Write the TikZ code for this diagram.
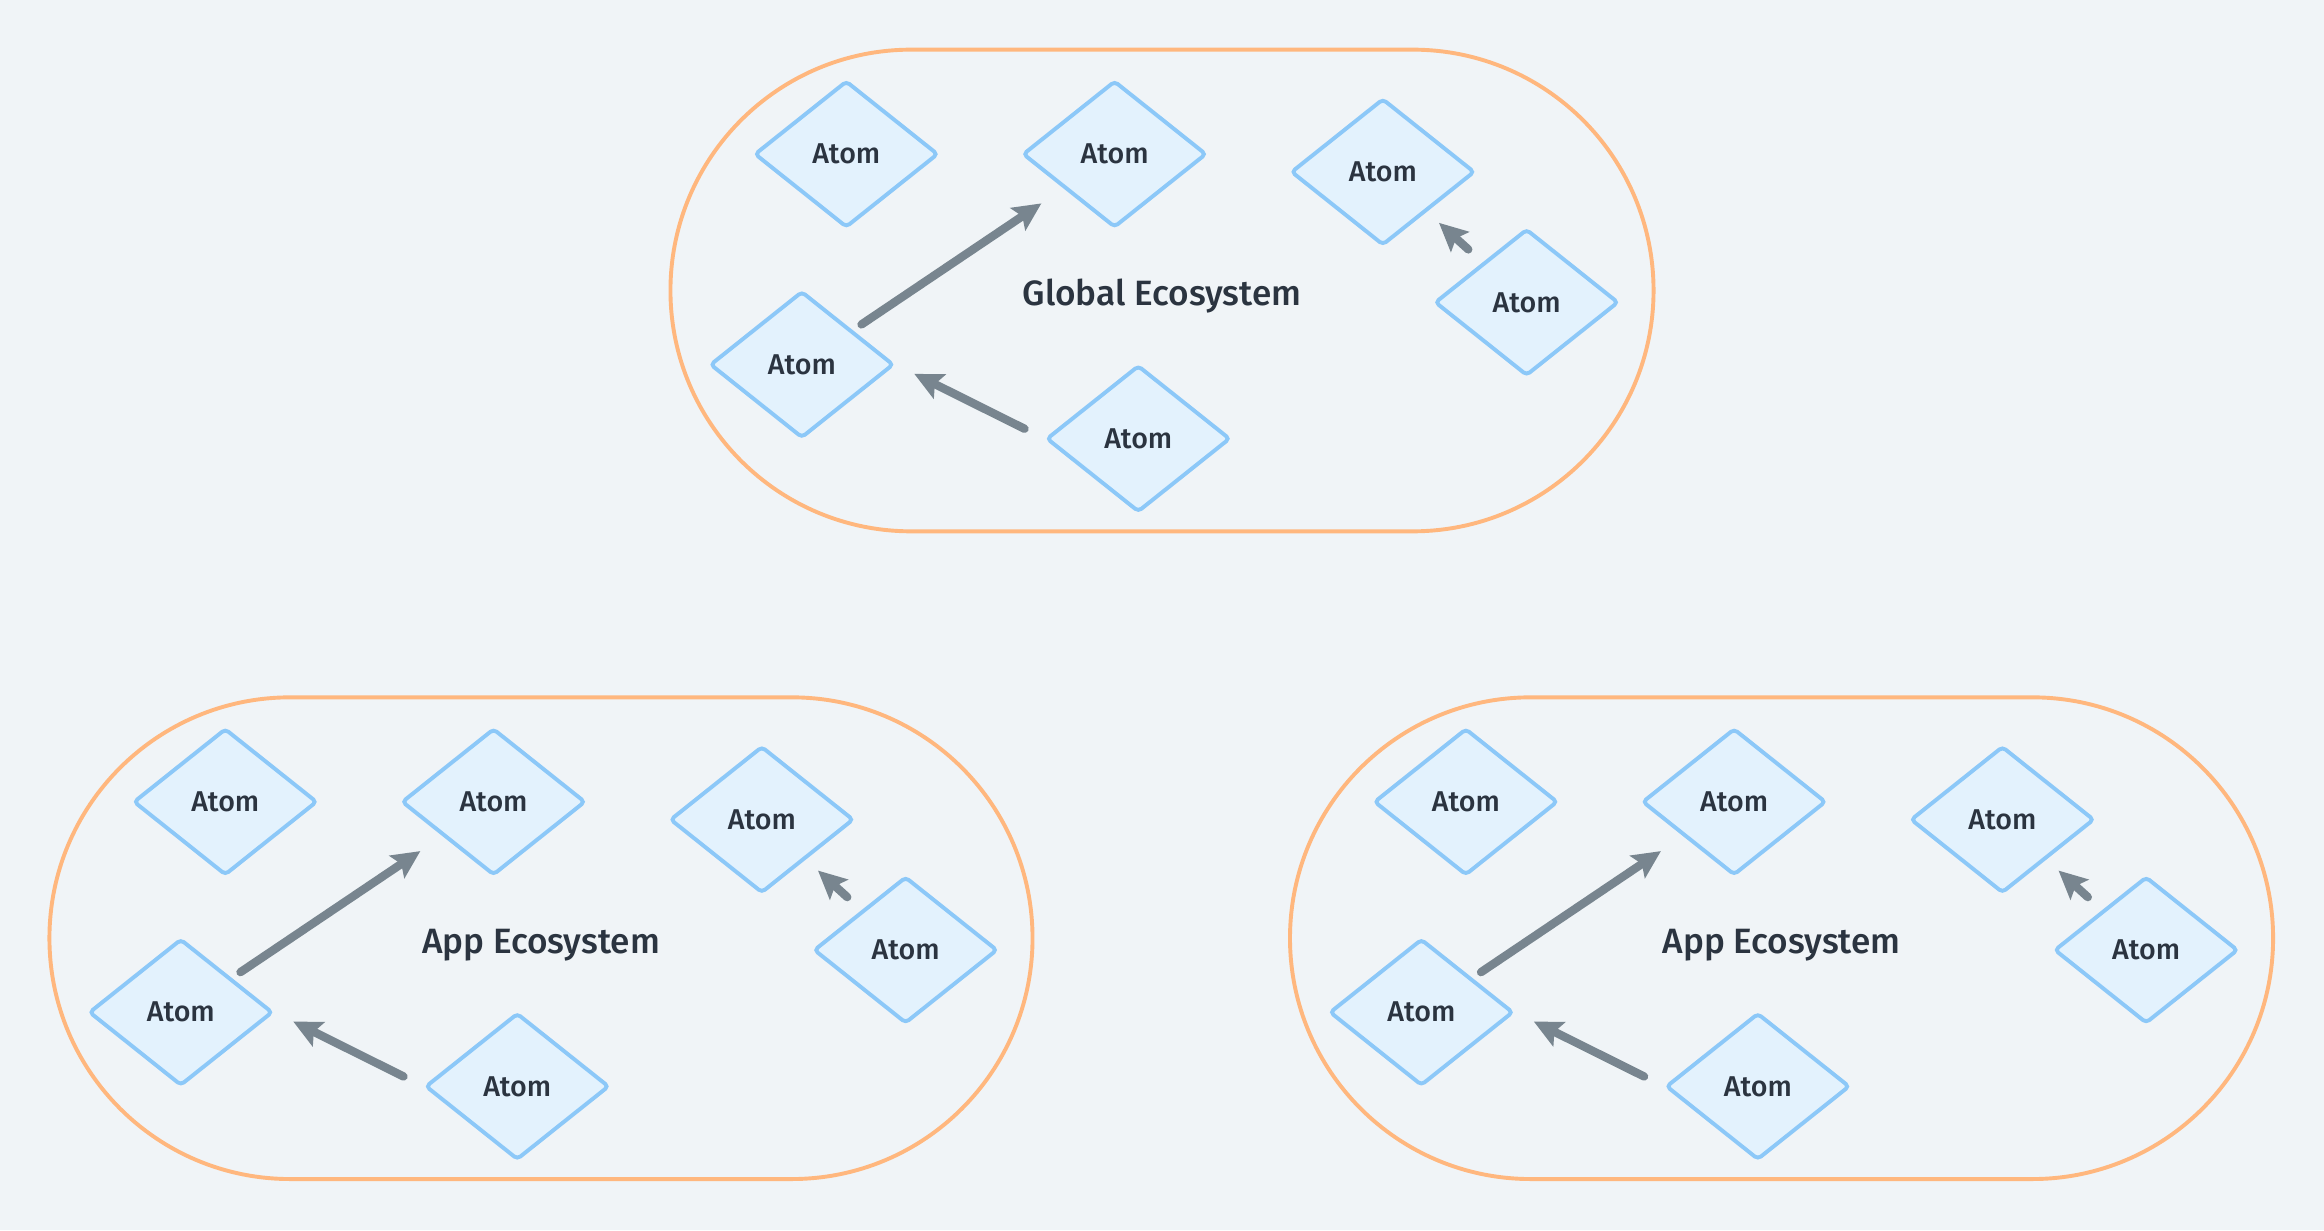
\documentclass[tikz,border=0pt]{standalone}
\usepackage{fontspec}
\setmainfont{Fira Sans Medium}
\usetikzlibrary{shapes.geometric,shapes.misc,arrows.meta}
\definecolor{bgcol}{HTML}{F0F4F7}
\definecolor{ecoline}{HTML}{FFB77E}
\definecolor{atomline}{HTML}{8CC8F8}
\definecolor{atomfill}{HTML}{E3F2FD}
\definecolor{linkcol}{HTML}{78858F}
\definecolor{txtcol}{HTML}{2B3440}
\tikzset{
  ecosys/.style={rounded rectangle, draw=ecoline, line width=1.5pt, minimum width=13.5cm, minimum height=6.5cm, text height=0.5cm, text depth=0.1cm, text=txtcol, font=\fontsize{13.5}{16}\selectfont},
  atom/.style={diamond, draw=atomline, fill=atomfill, line width=1.5pt, rounded corners=1.5pt, minimum width=2.48cm, minimum height=1.98cm, inner sep=0pt, text=txtcol, font=\fontsize{11}{13}\selectfont},
  link/.style={draw=linkcol, line width=3.2pt, line cap=round, -{Stealth[length=0.38cm,width=0.36cm,inset=0.07cm]}},
}
\begin{document}
\begin{tikzpicture}[x=0.2mm,y=-0.2mm]
            \fill[bgcol] (0,0) rectangle (1568,830);
            \useasboundingbox (0,0) rectangle (1568,830);
            \foreach \gx/\gy/\g/\glabel in {784/196/g/Global Ecosystem,365/633/l/App Ecosystem,1202/633/r/App Ecosystem}{
            \begin{scope}[shift={(\gx,\gy)}]
            \node[ecosys] (\g eco) at (0,0) {\glabel};
            \node[atom] (\g1) at (-213,-92) {Atom};
            \node[atom] (\g2) at (-32,-92) {Atom};
            \node[atom] (\g3) at (149,-80) {Atom};
            \node[atom] (\g4) at (246,8) {Atom};
            \node[atom] (\g5) at (-243,50) {Atom};
            \node[atom] (\g6) at (-16,100) {Atom};
            \draw[link,shorten <=0.14cm,shorten >=0.36cm] (\g5)--(\g2);
            \draw[link,shorten <=0.3cm,shorten >=0.28cm] (\g6.west)--(\g5.east);
            \draw[link,shorten <=0.26cm,shorten >=0.22cm] (\g4)--(\g3);
            \end{scope}
            }
        \end{tikzpicture}
\end{document}
